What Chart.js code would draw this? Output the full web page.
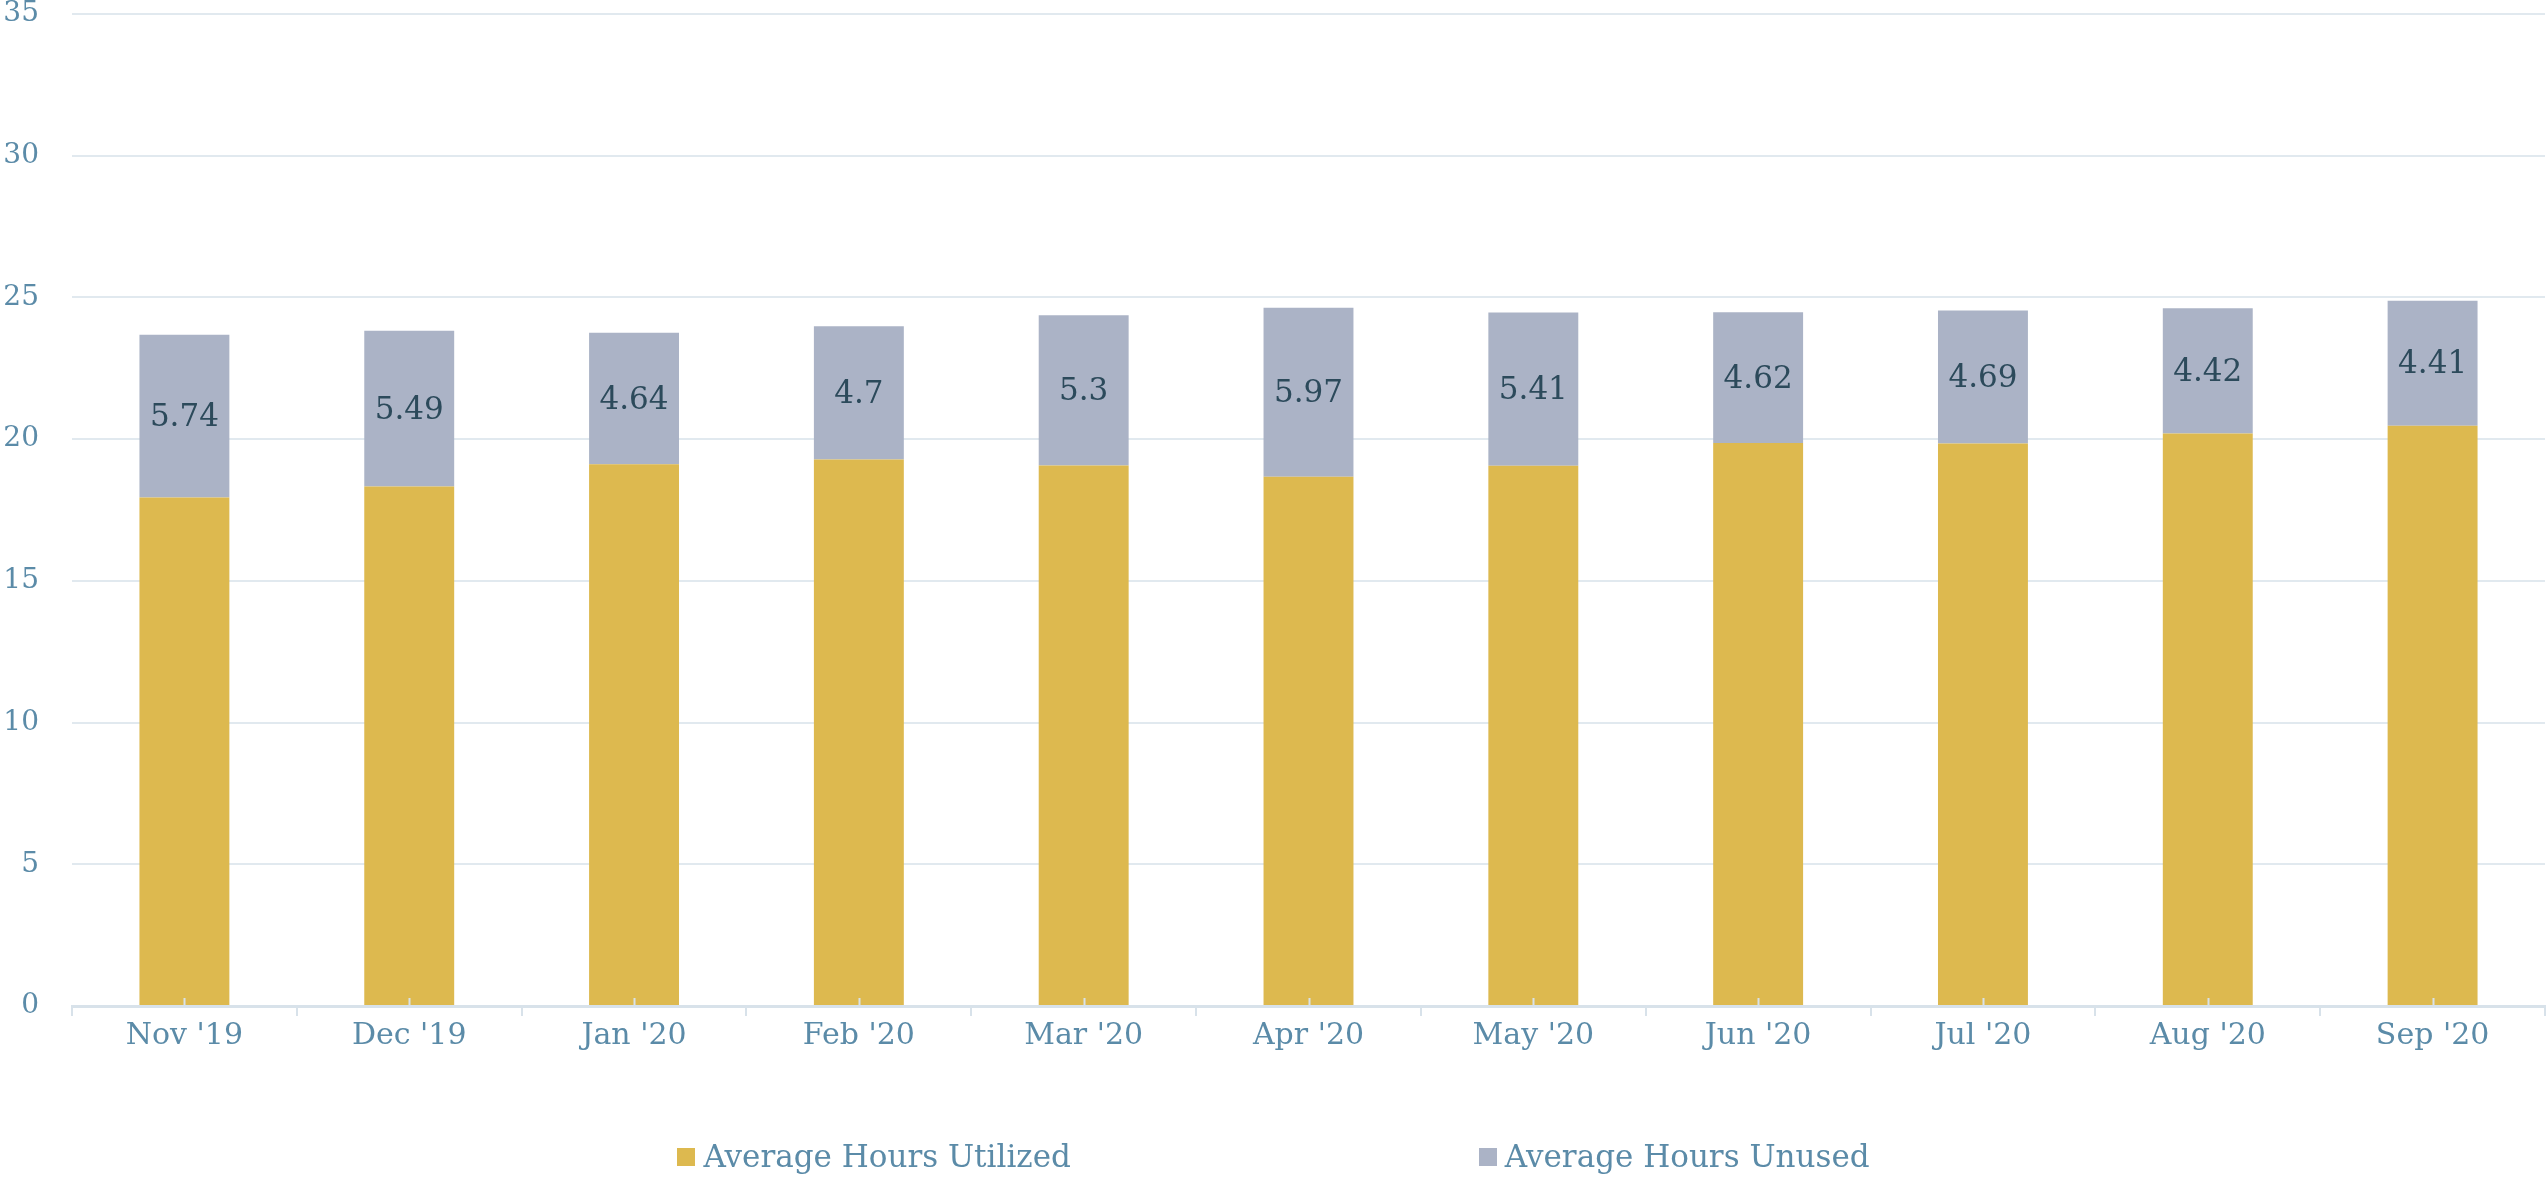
<!DOCTYPE html>
<html>
<head>
<meta charset="utf-8">
<script src="https://cdn.jsdelivr.net/npm/chart.js@4/dist/chart.umd.min.js"></script>
<style>
  html, body { margin: 0; padding: 0; background: #fff; }
  #wrap { position: relative; width: 2547px; height: 1182px; }
  #c { position: absolute; left: 0; top: 0; }
  #legend { position: absolute; left: 0; top: 1138px; width: 2547px; display: flex; justify-content: center;
            font-family: "DejaVu Serif", serif; font-size: 31px; color: #5b8ba8; }
  .item { display: flex; align-items: flex-end; }
  .item + .item { margin-left: 408px; }
  .box { width: 18px; height: 18px; margin-right: 8px; margin-bottom: 8px; }
</style>
</head>
<body>
<div id="wrap">
  <canvas id="c" width="2547" height="1182"></canvas>
  <div id="legend"></div>
</div>
<script>
const categories = ["Nov '19", "Dec '19", "Jan '20", "Feb '20", "Mar '20", "Apr '20", "May '20", "Jun '20", "Jul '20", "Aug '20", "Sep '20"];
const hoursUtilized = [17.94, 18.33, 19.11, 19.28, 19.07, 18.67, 19.06, 19.86, 19.85, 20.2, 20.47];
const hoursUnused = [5.74, 5.49, 4.64, 4.7, 5.3, 5.97, 5.41, 4.62, 4.69, 4.42, 4.41];
const seriesNames = ["Average Hours Utilized", "Average Hours Unused"];
const yTicks = [0, 5, 10, 15, 20, 25, 30, 35];

const colors = ['#ddb94f', '#abb3c6'];
const axisText = '#5b8ba8';
const gridColor = '#e1e9ef';
const FONT = '"DejaVu Serif", serif';

const centerTicks = {
  id: 'centerTicks',
  afterDatasetsDraw(chart) {
    const ctx = chart.ctx, xs = chart.scales.x, bottom = chart.chartArea.bottom;
    ctx.save();
    ctx.strokeStyle = '#d8e2ea';
    ctx.lineWidth = 2;
    categories.forEach((c, i) => {
      const x = Math.round(xs.getPixelForValue(i)) + 0.5;
      ctx.beginPath();
      ctx.moveTo(x, bottom - 8);
      ctx.lineTo(x, bottom);
      ctx.stroke();
    });
    ctx.restore();
  }
};

const barLabels = {
  id: 'barLabels',
  afterDatasetsDraw(chart) {
    const ctx = chart.ctx;
    const meta = chart.getDatasetMeta(1);
    ctx.save();
    ctx.fillStyle = '#2c4a5b';
    ctx.font = '31px ' + FONT;
    ctx.textAlign = 'center';
    ctx.textBaseline = 'middle';
    meta.data.forEach((bar, i) => {
      const p = bar.getProps(['x', 'y', 'base'], true);
      ctx.fillText(String(hoursUnused[i]), p.x, (p.y + p.base) / 2 + 2);
    });
    ctx.restore();
  }
};

new Chart(document.getElementById('c'), {
  type: 'bar',
  data: {
    labels: categories,
    datasets: [
      { label: seriesNames[0], data: hoursUtilized, backgroundColor: colors[0] },
      { label: seriesNames[1], data: hoursUnused, backgroundColor: colors[1] }
    ]
  },
  options: {
    responsive: false,
    animation: false,
    layout: { padding: { top: 14, right: 2, bottom: 0, left: 0 } },
    datasets: { bar: { categoryPercentage: 1, barPercentage: 0.4 } },
    plugins: { legend: { display: false }, tooltip: { enabled: false } },
    scales: {
      x: {
        stacked: true,
        afterFit(s) { s.height = 176; },
        grid: { offset: true, drawOnChartArea: false, drawTicks: true, tickLength: 10, color: '#d8e2ea', lineWidth: 2 },
        border: { display: true, color: '#d8e2ea', width: 3 },
        ticks: { color: axisText, font: { family: FONT, size: 30 }, padding: 2 }
      },
      y: {
        stacked: true,
        min: 0, max: 35,
        afterFit(s) { s.width = 72; s.paddingTop = 0; s.paddingBottom = 0; },
        afterBuildTicks(s) { s.ticks = yTicks.map(v => ({ value: v })); },
        grid: { color: gridColor, lineWidth: 2, drawTicks: false },
        border: { display: false },
        ticks: { color: axisText, font: { family: FONT, size: 28 }, padding: 33 }
      }
    }
  },
  plugins: [centerTicks, barLabels]
});

const lg = document.getElementById('legend');
seriesNames.forEach((n, i) => {
  const it = document.createElement('div');
  it.className = 'item';
  const b = document.createElement('div');
  b.className = 'box';
  b.style.background = colors[i];
  const t = document.createElement('span');
  t.textContent = n;
  it.appendChild(b); it.appendChild(t);
  lg.appendChild(it);
});
</script>
</body>
</html>
